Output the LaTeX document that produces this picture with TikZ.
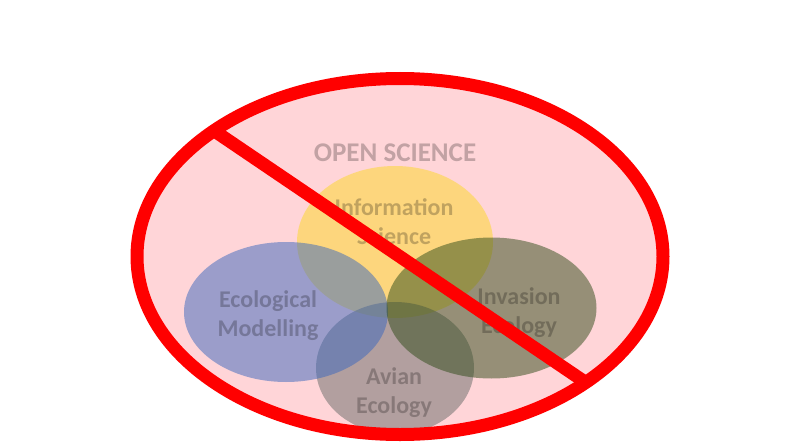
\documentclass[tikz,border=0pt]{standalone}
\usepackage{fontspec}
\setmainfont{Carlito}
\usetikzlibrary{shapes.geometric}

% colours of the discs (drawn half transparent over the pink field)
\definecolor{fieldpink}{RGB}{255,213,216}
\definecolor{stopred}{RGB}{255,0,0}
\definecolor{infogold}{RGB}{253,215,36}
\definecolor{modblue}{RGB}{57,103,190}
\definecolor{involive}{RGB}{47,75,24}
\definecolor{aviangray}{RGB}{103,107,104}

\tikzset{
  disc/.style={ellipse, inner sep=0pt, fill opacity=0.5},
  topic/.style={align=center, font=\bfseries\fontsize{24}{29}\selectfont,
    text=black, text opacity=0.24, inner sep=0pt},
  slash/.style={draw=stopred, line width=13pt},
}

\begin{document}
\begin{tikzpicture}[x=1pt, y=-1pt]
  \useasboundingbox (0,0) rectangle (790,444);

  % pink field
  \node[ellipse, inner sep=0pt, fill=fieldpink,
        minimum width=526pt, minimum height=356pt] (field) at (400,256.5) {};

  % overlapping discs
  \node[disc, fill=infogold,  minimum width=196pt, minimum height=152pt] (info)   at (395,242) {};
  \node[disc, fill=aviangray, minimum width=158pt, minimum height=132pt] (avian)  at (395,368) {};
  \node[disc, fill=modblue,   minimum width=204pt, minimum height=140pt] (model)  at (286,312) {};
  \node[disc, fill=involive,  minimum width=210pt, minimum height=141pt] (invade) at (491.5,308) {};

  % titles
  \node[topic, font=\bfseries\fontsize{27}{32}\selectfont] (opensci) at (395,153) {OPEN SCIENCE};
  \node[topic] (infotext)   at (394,222) {Information\\Science};
  \node[topic] (modeltext)  at (268,316) {Ecological\\Modelling};
  \node[topic] (invadetext) at (519,313) {Invasion\\Ecology};
  \node[topic] (aviantext)  at (394,393) {Avian\\Ecology};

  % the crossing bar and the ring
  \coordinate (barstart) at (213,130);
  \coordinate (barend)   at (585,382);
  \draw[slash] (barstart) -- (barend);
  \node[ellipse, inner sep=0pt, slash,
        minimum width=526pt, minimum height=356pt] (ring) at (field.center) {};
\end{tikzpicture}
\end{document}
